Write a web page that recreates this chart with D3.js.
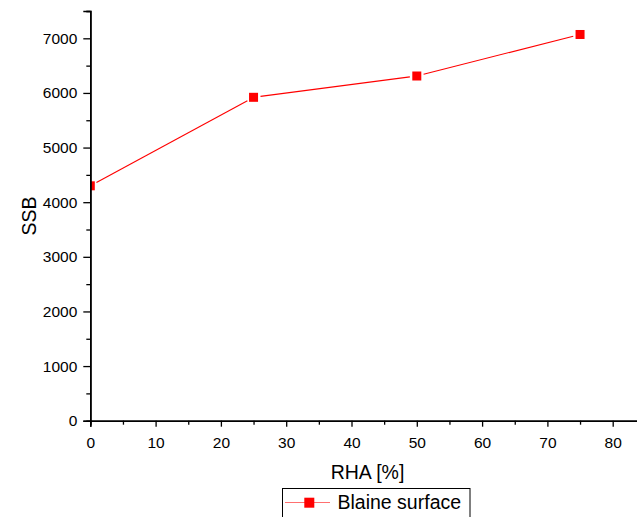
<!DOCTYPE html>
<html>
<head>
<meta charset="utf-8">
<script src="https://cdn.jsdelivr.net/npm/d3@7/dist/d3.min.js"></script>
<style>
  body { margin: 0; background: #fff; }
  svg { display: block; font-family: Arial, "Liberation Sans", sans-serif; }
</style>
</head>
<body>
<div id="chart"></div>
<script>
// data
const rhaPercent = [0, 25, 50, 75];
const blaineValues = [4300, 5920, 6310, 7070];
const xTickValues = [0, 10, 20, 30, 40, 50, 60, 70, 80];
const yTickValues = [0, 1000, 2000, 3000, 4000, 5000, 6000, 7000];
const seriesName = "Blaine surface";

const width = 637;
const height = 517;
const fontFamily = "Arial, 'Liberation Sans', sans-serif";

// plot box (axis lines)
const plotLeft = 90.3, plotBottom = 420.7, plotTop = 11;

const svg = d3.select("#chart").append("svg")
  .attr("width", width)
  .attr("height", height);

const x = d3.scaleLinear().domain([0, 85]).range([plotLeft, plotLeft + 85 * 6.53]);
const y = d3.scaleLinear().domain([0, 7500]).range([plotBottom, plotTop]);

// clip so the marker at x=0 is cut at the axis
svg.append("clipPath").attr("id", "plotClip")
  .append("rect")
  .attr("x", plotLeft).attr("y", 0)
  .attr("width", width - plotLeft).attr("height", plotBottom);

const plot = svg.append("g").attr("clip-path", "url(#plotClip)");

const pts = rhaPercent.map((d, i) => [x(d), y(blaineValues[i])]);

// line segments stop short of the markers
const gap = 7;
const segs = d3.pairs(pts).map(([a, b]) => {
  const dx = b[0] - a[0], dy = b[1] - a[1];
  const len = Math.hypot(dx, dy);
  const ux = dx / len, uy = dy / len;
  return [[a[0] + ux * gap, a[1] + uy * gap], [b[0] - ux * gap, b[1] - uy * gap]];
});

plot.selectAll(".seg")
  .data(segs)
  .enter()
  .append("line")
  .attr("class", "seg")
  .attr("x1", d => d[0][0]).attr("y1", d => d[0][1])
  .attr("x2", d => d[1][0]).attr("y2", d => d[1][1])
  .attr("stroke", "#ff0000")
  .attr("stroke-width", 1.1);

const ms = 9;
plot.selectAll(".marker")
  .data(pts)
  .enter()
  .append("rect")
  .attr("class", "marker")
  .attr("x", d => d[0] - ms / 2)
  .attr("y", d => d[1] - ms / 2)
  .attr("width", ms)
  .attr("height", ms)
  .attr("fill", "#ff0000");

// x axis
const xAxis = svg.append("g").attr("transform", `translate(0,${plotBottom})`);
xAxis.call(d3.axisBottom(x).tickValues(d3.range(5, 85, 10)).tickSize(4).tickFormat(""));
xAxis.call(g => g.append("g")
  .call(d3.axisBottom(x).tickValues(xTickValues).tickSize(6).tickPadding(10).tickFormat(d3.format("d"))));
xAxis.selectAll(".domain").attr("stroke", "#000").attr("stroke-width", 1.6);
xAxis.selectAll("line").attr("stroke", "#000").attr("stroke-width", 1.3);
xAxis.selectAll("text").style("font-size", "15.5px").style("font-family", fontFamily).attr("fill", "#000");

// y axis
const yAxis = svg.append("g").attr("transform", `translate(${plotLeft},0)`);
yAxis.call(d3.axisLeft(y).tickValues(d3.range(500, 8000, 1000)).tickSize(4).tickFormat(""));
yAxis.call(g => g.append("g")
  .call(d3.axisLeft(y).tickValues(yTickValues).tickSize(7).tickPadding(6).tickFormat(d3.format("d"))));
yAxis.selectAll(".domain").attr("stroke", "#000").attr("stroke-width", 1.6);
yAxis.selectAll("line").attr("stroke", "#000").attr("stroke-width", 1.3);
yAxis.selectAll("text").style("font-size", "15.5px").style("font-family", fontFamily).attr("fill", "#000");

// axis titles
svg.append("text")
  .attr("x", 367.5).attr("y", 479)
  .attr("text-anchor", "middle")
  .style("font-size", "19.5px")
  .text("RHA [%]");

svg.append("text")
  .attr("transform", `translate(35.5,216) rotate(-90)`)
  .attr("text-anchor", "middle")
  .style("font-size", "19.5px")
  .text("SSB");

// legend
const legend = svg.append("g");
legend.append("rect")
  .attr("x", 282.5).attr("y", 488.5)
  .attr("width", 187.5).attr("height", 40)
  .attr("fill", "#fff").attr("stroke", "#000").attr("stroke-width", 1);
legend.append("line")
  .attr("x1", 285).attr("x2", 330)
  .attr("y1", 502.5).attr("y2", 502.5)
  .attr("stroke", "#ff7070").attr("stroke-width", 1.2);
legend.append("rect")
  .attr("x", 304.3).attr("y", 497.7)
  .attr("width", 10).attr("height", 10)
  .attr("fill", "#ff0000");
legend.append("text")
  .attr("x", 337.5).attr("y", 509)
  .style("font-size", "19.5px")
  .text(seriesName);
</script>
</body>
</html>
